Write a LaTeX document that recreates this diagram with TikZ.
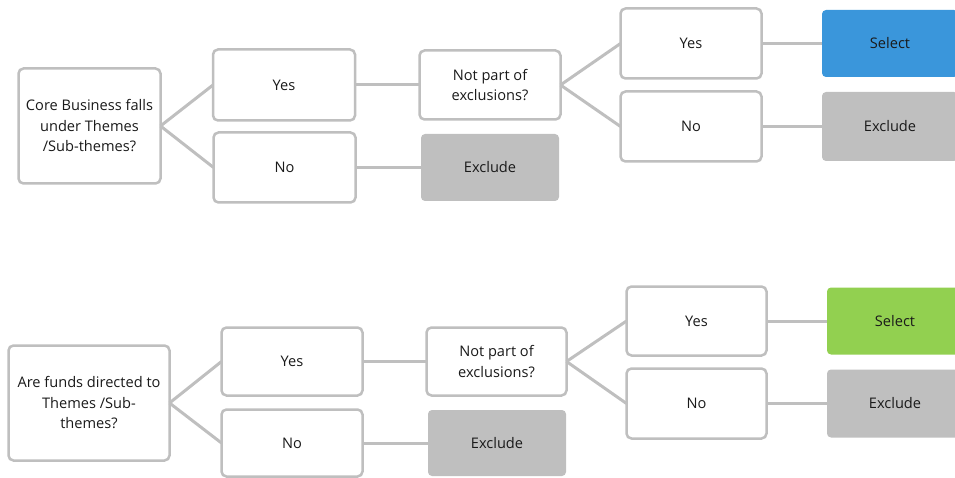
\documentclass[tikz,border=0pt]{standalone}
\usepackage{fontspec}
\setmainfont{Open Sans}
\definecolor{bord}{HTML}{BFBFBF}
\definecolor{grayfill}{HTML}{BFBFBF}
\definecolor{bluefill}{HTML}{3A96DB}
\definecolor{greenfill}{HTML}{92D050}
\definecolor{txt}{HTML}{1A1A1A}
\tikzset{
  qbox/.style={draw=bord, line width=2.5pt, rounded corners=5pt, fill=white, align=center,
    text=txt, inner sep=0pt, outer sep=0pt, font=\fontsize{14.6}{20.5}\selectfont},
  fbox/.style={rounded corners=4pt, align=center, text=txt, inner sep=0pt, outer sep=0pt,
    font=\fontsize{14.6}{20.5}\selectfont},
  conn/.style={draw=bord, line width=3pt}
}
\begin{document}
\begin{tikzpicture}[x=1pt,y=-1pt]
\useasboundingbox (0,0) rectangle (955,478);
% top tree
\node[qbox, minimum width=142pt, minimum height=115pt] (q1) at (89.5,126) {Core Business falls\\under Themes\\/Sub-themes?};
\node[qbox, minimum width=142pt, minimum height=71pt] (y1) at (284,85) {Yes};
\node[qbox, minimum width=142pt, minimum height=70pt] (n1) at (284.5,167.5) {No};
\node[qbox, minimum width=141pt, minimum height=69pt] (np1) at (490,85) {Not part of\\exclusions?};
\node[fbox, fill=grayfill, minimum width=138pt, minimum height=67pt] (ex1) at (490,167.5) {Exclude};
\node[qbox, minimum width=141pt, minimum height=70pt] (y2) at (691,43.5) {Yes};
\node[qbox, minimum width=141pt, minimum height=70pt] (n2) at (691,126.5) {No};
\node[fbox, fill=bluefill, minimum width=136pt, minimum height=67pt] (sel1) at (890,43.5) {Select};
\node[fbox, fill=grayfill, minimum width=136pt, minimum height=69pt] (ex2) at (890,126.5) {Exclude};
% bottom tree
\node[qbox, minimum width=161pt, minimum height=115pt] (q2) at (89,403) {Are funds directed to\\Themes /Sub-\\themes?};
\node[qbox, minimum width=141pt, minimum height=68pt] (y3) at (292,361.5) {Yes};
\node[qbox, minimum width=141pt, minimum height=67pt] (n3) at (292,443) {No};
\node[fbox, fill=grayfill, minimum width=138pt, minimum height=66pt] (ex3) at (497,443) {Exclude};
\node[qbox, minimum width=140pt, minimum height=68pt] (np2) at (496.5,361.5) {Not part of\\exclusions?};
\node[qbox, minimum width=140pt, minimum height=69pt] (y4) at (696.5,321) {Yes};
\node[qbox, minimum width=140pt, minimum height=70pt] (n4) at (696.5,403.5) {No};
\node[fbox, fill=greenfill, minimum width=136pt, minimum height=67pt] (sel2) at (895,321) {Select};
\node[fbox, fill=grayfill, minimum width=136pt, minimum height=68pt] (ex4) at (895,403.5) {Exclude};
% connectors
\draw[conn] (q1.east) -- (y1.west);
\draw[conn] (q1.east) -- (n1.west);
\draw[conn] (y1.east) -- (np1.west);
\draw[conn] (n1.east) -- (ex1.west);
\draw[conn] (np1.east) -- (y2.west);
\draw[conn] (np1.east) -- (n2.west);
\draw[conn] (y2.east) -- (sel1.west);
\draw[conn] (n2.east) -- (ex2.west);
\draw[conn] (q2.east) -- (y3.west);
\draw[conn] (q2.east) -- (n3.west);
\draw[conn] (y3.east) -- (np2.west);
\draw[conn] (n3.east) -- (ex3.west);
\draw[conn] (np2.east) -- (y4.west);
\draw[conn] (np2.east) -- (n4.west);
\draw[conn] (y4.east) -- (sel2.west);
\draw[conn] (n4.east) -- (ex4.west);
\end{tikzpicture}
\end{document}
